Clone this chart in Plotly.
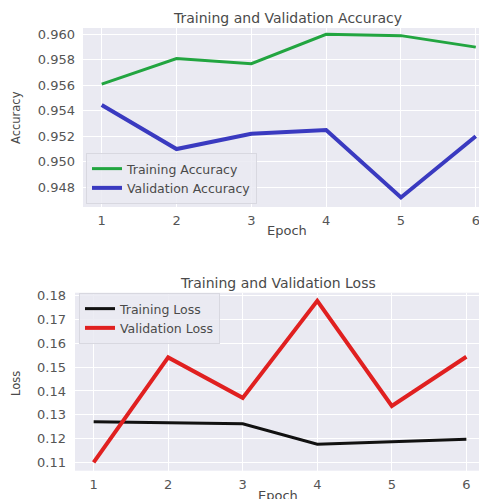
import plotly.graph_objects as go

epochs = [1, 2, 3, 4, 5, 6]
train_acc = [0.9561, 0.9581, 0.9577, 0.9600, 0.9599, 0.9590]
val_acc = [0.95445, 0.9510, 0.9522, 0.9525, 0.9472, 0.9520]
train_loss = [0.1271, 0.1265, 0.1262, 0.1176, 0.1187, 0.1197]
val_loss = [0.1100, 0.1541, 0.1371, 0.1779, 0.1337, 0.1544]

acc_ticks = [0.948, 0.950, 0.952, 0.954, 0.956, 0.958, 0.960]
loss_ticks = [0.11, 0.12, 0.13, 0.14, 0.15, 0.16, 0.17, 0.18]

# page body has an 8px margin: lay the figure out in window pixels minus that offset
OFF = 8
W, H = 487 - OFF, 499 - OFF
FONT = "DejaVu Sans"
TXT = "#4a4a4a"
BG = "#EAEAF2"


def px(x):
    return (x - OFF) / W


def py(y):
    return 1 - (y - OFF) / H


fig = go.Figure()
fig.add_trace(go.Scatter(x=epochs, y=train_acc, mode="lines", name="Training Accuracy",
                         line=dict(color="#22A540", width=3), xaxis="x", yaxis="y", legend="legend"))
fig.add_trace(go.Scatter(x=epochs, y=val_acc, mode="lines", name="Validation Accuracy",
                         line=dict(color="#3A3AC0", width=4), xaxis="x", yaxis="y", legend="legend"))
fig.add_trace(go.Scatter(x=epochs, y=train_loss, mode="lines", name="Training Loss",
                         line=dict(color="#111111", width=3), xaxis="x2", yaxis="y2", legend="legend2"))
fig.add_trace(go.Scatter(x=epochs, y=val_loss, mode="lines", name="Validation Loss",
                         line=dict(color="#E02020", width=4), xaxis="x2", yaxis="y2", legend="legend2"))

axcommon = dict(showgrid=True, gridcolor="white", gridwidth=1.2, zeroline=False, automargin=False,
                showline=False, ticks="", tickfont=dict(family=FONT, size=13, color="#555555"))

legcommon = dict(xanchor="left", bgcolor="rgba(234,234,242,0.85)", bordercolor="#D8D8E0", borderwidth=1,
                 font=dict(family=FONT, size=12.5, color=TXT), tracegroupgap=0, itemwidth=30)


def ann(text, x, y, size, angle=0):
    return dict(text=text, x=px(x), y=py(y), xref="paper", yref="paper", showarrow=False,
                textangle=angle, font=dict(family=FONT, size=size, color=TXT),
                xanchor="center", yanchor="middle")


fig.update_layout(
    width=W, height=H,
    margin=dict(l=0, r=0, t=0, b=0),
    paper_bgcolor="white",
    plot_bgcolor=BG,
    font=dict(family=FONT, color=TXT),
    xaxis=dict(domain=[px(83), 1.0], range=[0.75, 6.15], anchor="y", tickvals=epochs,
               ticklabelstandoff=4, **axcommon),
    yaxis=dict(domain=[py(207), py(28)], range=[0.94645, 0.9605], anchor="x",
               tickvals=acc_ticks, tickformat=".3f", ticklabelstandoff=7, **axcommon),
    xaxis2=dict(domain=[px(75), px(485)], range=[0.75, 6.25], anchor="y2", tickvals=epochs,
                ticklabelstandoff=4, **axcommon),
    yaxis2=dict(domain=[py(470.7), py(292.7)], range=[0.1065, 0.1813], anchor="x2",
                tickvals=loss_ticks, tickformat=".2f", ticklabelstandoff=8, **axcommon),
    legend=dict(x=px(86), y=py(204), yanchor="bottom", **legcommon),
    legend2=dict(x=px(79), y=py(293), yanchor="top", **legcommon),
    annotations=[
        ann("Training and Validation Accuracy", 287, 18, 14),
        ann("Training and Validation Loss", 278, 283, 14),
        ann("Epoch", 287, 230, 13),
        ann("Epoch", 278, 495, 13),
        ann("Accuracy", 16, 118, 11.5, -90),
        ann("Loss", 16, 383, 11.5, -90),
    ],
)

fig.write_html("out.html")
